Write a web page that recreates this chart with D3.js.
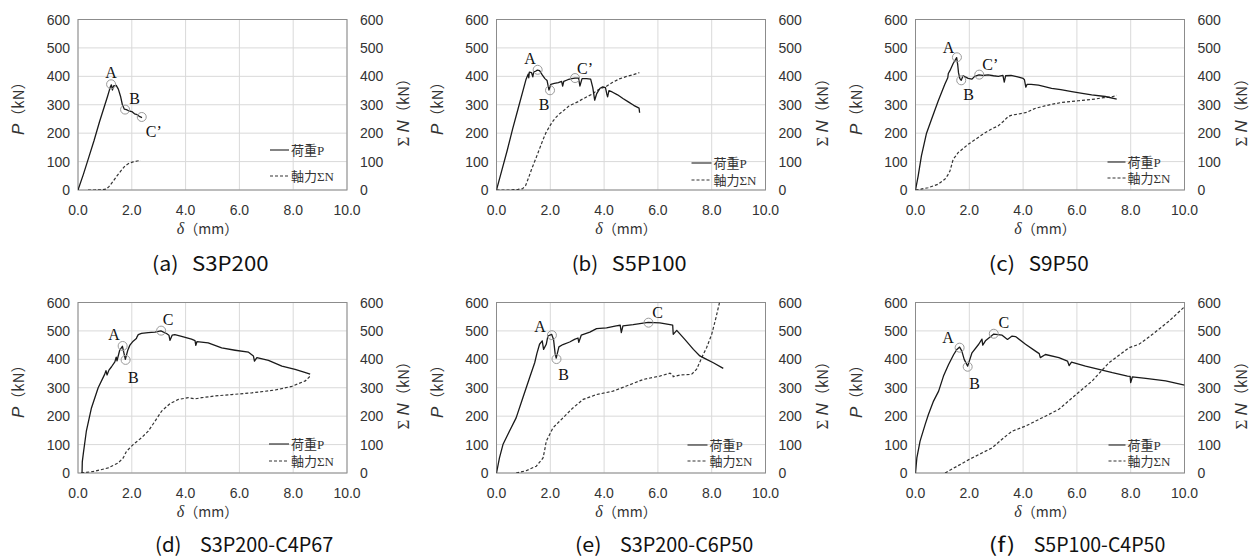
<!DOCTYPE html>
<html><head><meta charset="utf-8">
<script src="https://cdn.jsdelivr.net/npm/d3@7"></script>
<style>body{margin:0;background:#fff;} svg{display:block}</style>
</head><body><svg id="c" width="1252" height="558"></svg>
<script>
// ---------- data ----------
const xTicks = [0, 2, 4, 6, 8, 10];
const yTicks = [0, 100, 200, 300, 400, 500, 600];
const capLabels = ["(a)", "(b)", "(c)", "(d)", "(e)", "(f)"];
const capNames = ["S3P200", "S5P100", "S9P50", "S3P200-C4P67", "S3P200-C6P50", "S5P100-C4P50"];
const legendNames = ["荷重P", "軸力ΣN"];

const loadA = [[0,0],[0.2,55],[0.4,115],[0.6,175],[0.8,240],[1.0,300],[1.1,330],[1.2,362],[1.24,370],[1.28,352],[1.32,366],[1.42,368],[1.5,355],[1.58,330],[1.65,300],[1.72,285],[1.8,283],[1.9,278],[2.0,276],[2.1,268],[2.2,265],[2.3,258],[2.38,255]];
const axialA = [[0.37,0],[0.6,0],[0.9,1],[1.05,3],[1.15,12],[1.3,30],[1.45,50],[1.6,68],[1.75,85],[1.9,94],[2.05,99],[2.2,102],[2.33,104]];
const marksA = [["A",1.23,372],["B",1.75,283],["C’",2.37,257]];

const loadB = [[0,0],[0.2,70],[0.4,140],[0.6,215],[0.8,285],[1.0,355],[1.1,390],[1.18,408],[1.2,395],[1.22,415],[1.3,413],[1.35,398],[1.38,415],[1.45,418],[1.52,422],[1.6,420],[1.7,405],[1.8,392],[1.88,385],[1.95,352],[2.02,372],[2.15,375],[2.3,378],[2.42,382],[2.46,366],[2.5,382],[2.65,388],[2.8,392],[2.92,394],[3.05,394],[3.1,366],[3.18,392],[3.35,392],[3.5,390],[3.58,360],[3.65,316],[3.72,338],[3.85,358],[3.95,363],[4.05,360],[4.1,338],[4.13,328],[4.18,350],[4.3,345],[4.5,335],[4.7,322],[4.9,310],[5.1,298],[5.3,288],[5.32,272]];
const axialB = [[0,0],[0.5,0],[0.8,2],[0.97,5],[1.08,15],[1.2,45],[1.3,72],[1.4,96],[1.5,120],[1.6,145],[1.72,175],[1.84,202],[1.96,222],[2.08,240],[2.2,255],[2.33,267],[2.5,280],[2.7,296],[2.9,305],[3.02,310],[3.2,320],[3.4,330],[3.57,338],[3.7,348],[3.85,356],[4.07,364],[4.2,372],[4.32,379],[4.57,391],[4.81,399],[5.06,405],[5.31,413]];
const marksB = [["A",1.53,423],["B",1.99,351],["C’",2.92,394]];

const loadC = [[0,0],[0.1,50],[0.22,120],[0.41,200],[0.6,250],[0.84,312],[1.09,372],[1.2,395],[1.22,410],[1.28,420],[1.4,445],[1.53,466],[1.57,440],[1.6,412],[1.65,392],[1.7,386],[1.77,402],[1.85,398],[1.96,393],[2.1,390],[2.2,400],[2.36,405],[2.5,403],[2.7,405],[2.9,402],[3.08,400],[3.25,403],[3.3,380],[3.35,402],[3.55,403],[3.8,398],[4.0,393],[4.05,388],[4.1,362],[4.15,372],[4.3,372],[4.57,369],[4.8,364],[5.06,358],[5.4,353],[5.81,346],[6.2,340],[6.55,335],[7.05,329],[7.48,320]];
const axialC = [[0,0],[0.2,3],[0.47,8],[0.84,20],[1.09,38],[1.2,52],[1.28,67],[1.35,90],[1.4,108],[1.5,120],[1.59,132],[1.8,148],[1.96,161],[2.15,173],[2.33,185],[2.5,196],[2.7,208],[2.9,218],[3.08,226],[3.25,240],[3.45,259],[3.6,264],[3.82,267],[4.13,273],[4.44,287],[4.81,296],[5.1,302],[5.43,308],[6.05,314],[6.67,320],[7.0,325],[7.3,328],[7.48,333]];
const marksC = [["A",1.54,467],["B",1.70,386],["C’",2.37,406]];

const loadD = [[0.15,0],[0.16,40],[0.2,70],[0.31,147],[0.5,229],[0.75,300],[0.99,347],[1.04,360],[1.08,345],[1.15,362],[1.24,373],[1.37,391],[1.42,408],[1.45,395],[1.55,432],[1.65,446],[1.7,425],[1.76,400],[1.85,432],[1.93,450],[2.05,464],[2.17,473],[2.2,480],[2.24,487],[2.36,491],[2.61,494],[2.86,496],[3.08,500],[3.29,491],[3.38,485],[3.42,467],[3.5,485],[3.6,487],[3.85,481],[4.22,471],[4.35,466],[4.38,449],[4.42,462],[4.84,458],[5.34,440],[5.84,432],[6.34,425],[6.52,412],[6.56,394],[6.65,406],[7.08,396],[7.58,376],[8.07,365],[8.4,355],[8.63,348]];
const axialD = [[0.12,0],[0.62,6],[1.12,18],[1.49,35],[1.68,53],[1.8,76],[2.05,100],[2.36,124],[2.61,147],[2.86,182],[3.11,218],[3.42,244],[3.73,259],[4.1,265],[4.35,261],[4.6,265],[5.09,271],[5.71,276],[6.46,282],[7.33,292],[7.95,305],[8.45,324],[8.63,341]];
const marksD = [["A",1.66,447],["B",1.77,398],["C",3.09,501]];

const loadE = [[0,0],[0.11,53],[0.24,100],[0.48,147],[0.73,194],[0.98,265],[1.23,335],[1.42,388],[1.5,420],[1.6,453],[1.7,465],[1.75,435],[1.85,453],[1.91,482],[2.05,488],[2.12,470],[2.18,420],[2.22,404],[2.32,444],[2.47,452],[2.72,461],[2.9,470],[3.03,475],[3.06,460],[3.15,485],[3.47,496],[3.72,508],[4.09,511],[4.45,518],[4.6,520],[4.64,494],[4.7,518],[5.08,522],[5.64,530],[6.07,528],[6.45,522],[6.55,520],[6.57,488],[6.7,502],[7.0,470],[7.32,435],[7.56,412],[7.81,400],[8.06,388],[8.43,368]];
const axialE = [[0.73,0],[1.1,8],[1.48,24],[1.73,53],[1.8,85],[1.85,112],[2.1,159],[2.47,194],[2.84,229],[3.22,259],[3.72,276],[4.33,288],[4.83,306],[5.45,329],[6.07,341],[6.45,351],[6.55,345],[6.57,339],[6.82,345],[7.25,347],[7.44,365],[7.63,406],[7.81,441],[8.0,488],[8.16,547],[8.29,600]];
const marksE = [["A",2.06,485],["B",2.23,401],["C",5.65,529]];

const loadF = [[0,0],[0.05,53],[0.17,112],[0.36,171],[0.48,206],[0.67,253],[0.86,288],[1.04,341],[1.23,382],[1.42,417],[1.54,435],[1.64,443],[1.72,430],[1.81,400],[1.94,376],[2.1,423],[2.35,453],[2.47,471],[2.5,450],[2.6,465],[2.91,489],[3.22,485],[3.35,475],[3.42,470],[3.59,482],[3.72,480],[4.09,453],[4.46,429],[4.6,420],[4.64,406],[4.83,417],[5.33,406],[5.65,394],[5.71,378],[5.8,390],[6.32,376],[6.82,365],[7.32,353],[7.88,341],[7.98,340],[8.0,318],[8.06,338],[8.56,333],[9.3,324],[10.0,309]];
const axialF = [[1.1,0],[1.98,47],[2.84,88],[3.28,124],[3.59,147],[4.09,165],[4.83,200],[5.33,224],[5.83,265],[6.57,324],[7.19,388],[7.94,441],[8.31,453],[8.81,488],[9.43,535],[10.0,585]];
const marksF = [["A",1.64,441],["B",1.94,374],["C",2.91,490]];

const loads = [loadA, loadB, loadC, loadD, loadE, loadF];
const axials = [axialA, axialB, axialC, axialD, axialE, axialF];
const marks = [marksA, marksB, marksC, marksD, marksE, marksF];

// ---------- layout / style ----------
const colLeft = [78, 496.5, 915.5];
const rowTop = [19.5, 302.5];
const PW = 269, PH = 170.5;
const capY = [271, 552];
// caption pieces: [label x, label width, name x, name width]
const capPos = [[152,26.5,192,76.5],[571.7,26.5,611.7,75],[988.7,26.5,1028.7,60],
                [155,26.5,200,133.3],[575,26.5,620,133.3],[988.7,26.5,1033.7,131.6]];
// legend: [line x0 from right, line x1 from right, row1 from bottom, row2 from bottom]
const legendPos = [[-77,-58,-40,-14],[-74,-54,-27,-10],[-77,-59,-28,-12],[-78,-58,-29,-12],[-78,-58,-28,-12],[-76,-59,-28,-12]];
// label offsets (dx, dy of baseline) from marker centre
const labelOff = [
  [[0,-6],[9.5,-6],[12,20]],
  [[-7.6,-6],[-6,20],[10,-4.4]],
  [[-8.3,-4],[7.4,20],[11,-4.3]],
  [[-8.5,-6],[7.6,23],[7,-5.7]],
  [[-12,-3.3],[7,21],[9,-4.3]],
  [[-11.5,-5],[7,22],[10,-6]]
];

const svg = d3.select("#c");
svg.append("rect").attr("width",1252).attr("height",558).attr("fill","#fff");
const sans = "'Liberation Sans', Arial, 'Noto Sans', sans-serif";
const serif = "'Liberation Serif', 'Noto Sans CJK JP', serif";
const cjk = "'Noto Sans CJK JP', sans-serif";

for (let i = 0; i < 6; i++) {
  const L = colLeft[i % 3], T = rowTop[Math.floor(i / 3)];
  const R = L + PW, B = T + PH;
  const x = d3.scaleLinear().domain([0, 10]).range([L, R]);
  const y = d3.scaleLinear().domain([0, 600]).range([B, T]);
  const g = svg.append("g");

  // grid
  g.selectAll(".gx").data(xTicks).enter().append("line")
    .attr("x1", d => x(d)).attr("x2", d => x(d)).attr("y1", T).attr("y2", B)
    .attr("stroke", "#d9d9d9").attr("stroke-width", 1);
  g.selectAll(".gy").data(yTicks).enter().append("line")
    .attr("x1", L).attr("x2", R).attr("y1", d => y(d)).attr("y2", d => y(d))
    .attr("stroke", "#d9d9d9").attr("stroke-width", 1);
  g.append("rect").attr("x", L).attr("y", T).attr("width", PW).attr("height", PH)
    .attr("fill", "none").attr("stroke", "#8c8c8c").attr("stroke-width", 1);

  // tick labels
  g.selectAll(".ly").data(yTicks).enter().append("text")
    .attr("x", L - 8).attr("y", d => y(d)).attr("dy", "0.36em").attr("text-anchor", "end")
    .attr("font-family", sans).attr("font-size", 14).attr("fill", "#333").text(d => d);
  g.selectAll(".ry").data(yTicks).enter().append("text")
    .attr("x", R + 13).attr("y", d => y(d)).attr("dy", "0.36em").attr("text-anchor", "start")
    .attr("font-family", sans).attr("font-size", 14).attr("fill", "#333").text(d => d);
  g.selectAll(".lx").data(xTicks).enter().append("text")
    .attr("x", d => x(d)).attr("y", B + 25).attr("text-anchor", "middle")
    .attr("font-family", sans).attr("font-size", 14).attr("fill", "#333").text(d => d.toFixed(1));

  // axis titles
  const xt = g.append("text").attr("x", (L + R) / 2 - 5).attr("y", B + 44).attr("text-anchor", "middle")
    .attr("font-size", 14).attr("fill", "#333");
  xt.append("tspan").attr("font-family", serif).attr("font-style", "italic").attr("font-size", 16).text("δ");
  xt.append("tspan").attr("font-family", cjk).text("（mm）");

  const yl = g.append("text").attr("transform", `translate(${L - 59},${(T + B) / 2}) rotate(-90)`)
    .attr("text-anchor", "middle").attr("dy", "0.35em").attr("font-size", 15).attr("fill", "#333");
  yl.append("tspan").attr("font-family", sans).attr("font-style", "italic").attr("font-size", 17).text("P");
  yl.append("tspan").attr("font-family", cjk).text("（kN）");

  const yr = g.append("text").attr("transform", `translate(${R + 57},${(T + B) / 2 + 4}) rotate(-90)`)
    .attr("text-anchor", "middle").attr("dy", "0.35em").attr("font-size", 15).attr("fill", "#333");
  yr.append("tspan").attr("font-family", serif).attr("font-size", 17).text("Σ ");
  yr.append("tspan").attr("font-family", sans).attr("font-style", "italic").attr("font-size", 17).text("N");
  yr.append("tspan").attr("font-family", cjk).text("（kN）");

  // clip
  const cid = "clip" + i;
  svg.append("clipPath").attr("id", cid).append("rect").attr("x", L).attr("y", T).attr("width", PW).attr("height", PH);
  const pg = g.append("g").attr("clip-path", `url(#${cid})`);
  const line = d3.line().x(d => x(d[0])).y(d => y(d[1]));
  pg.append("path").attr("d", line(axials[i])).attr("fill", "none")
    .attr("stroke", "#333").attr("stroke-width", 1.2).attr("stroke-dasharray", "3,2");
  pg.append("path").attr("d", line(loads[i])).attr("fill", "none")
    .attr("stroke", "#1a1a1a").attr("stroke-width", 1.3).attr("stroke-linejoin", "round");

  // markers
  marks[i].forEach((m, j) => {
    g.append("circle").attr("cx", x(m[1])).attr("cy", y(m[2])).attr("r", 4.5)
      .attr("fill", "none").attr("stroke", "#9a9a9a").attr("stroke-width", 1);
    g.append("text").attr("x", x(m[1]) + labelOff[i][j][0]).attr("y", y(m[2]) + labelOff[i][j][1])
      .attr("text-anchor", "middle").attr("font-family", serif).attr("font-size", 16)
      .attr("fill", "#111").text(m[0]);
  });

  // legend
  const lp = legendPos[i];
  [0, 1].forEach(k => {
    const ly = B + lp[2 + k];
    g.append("line").attr("x1", R + lp[0]).attr("x2", R + lp[1]).attr("y1", ly).attr("y2", ly)
      .attr("stroke", "#333").attr("stroke-width", 1.2)
      .attr("stroke-dasharray", k === 1 ? "3,2" : null);
    g.append("text").attr("x", R + lp[1] + 2).attr("y", ly).attr("dy", "0.36em")
      .attr("font-family", serif).attr("font-size", 13).attr("fill", "#333").text(legendNames[k]);
  });

  // caption
  const cp = capPos[i], cy = capY[Math.floor(i / 3)];
  svg.append("text").attr("x", cp[0]).attr("y", cy)
    .attr("font-family", cjk).attr("font-size", 20).attr("fill", "#111")
    .attr("textLength", cp[1]).attr("lengthAdjust", "spacingAndGlyphs").text(capLabels[i]);
  svg.append("text").attr("x", cp[2]).attr("y", cy)
    .attr("font-family", cjk).attr("font-size", 20).attr("fill", "#111")
    .attr("textLength", cp[3]).attr("lengthAdjust", "spacingAndGlyphs").text(capNames[i]);
}
</script></body></html>
